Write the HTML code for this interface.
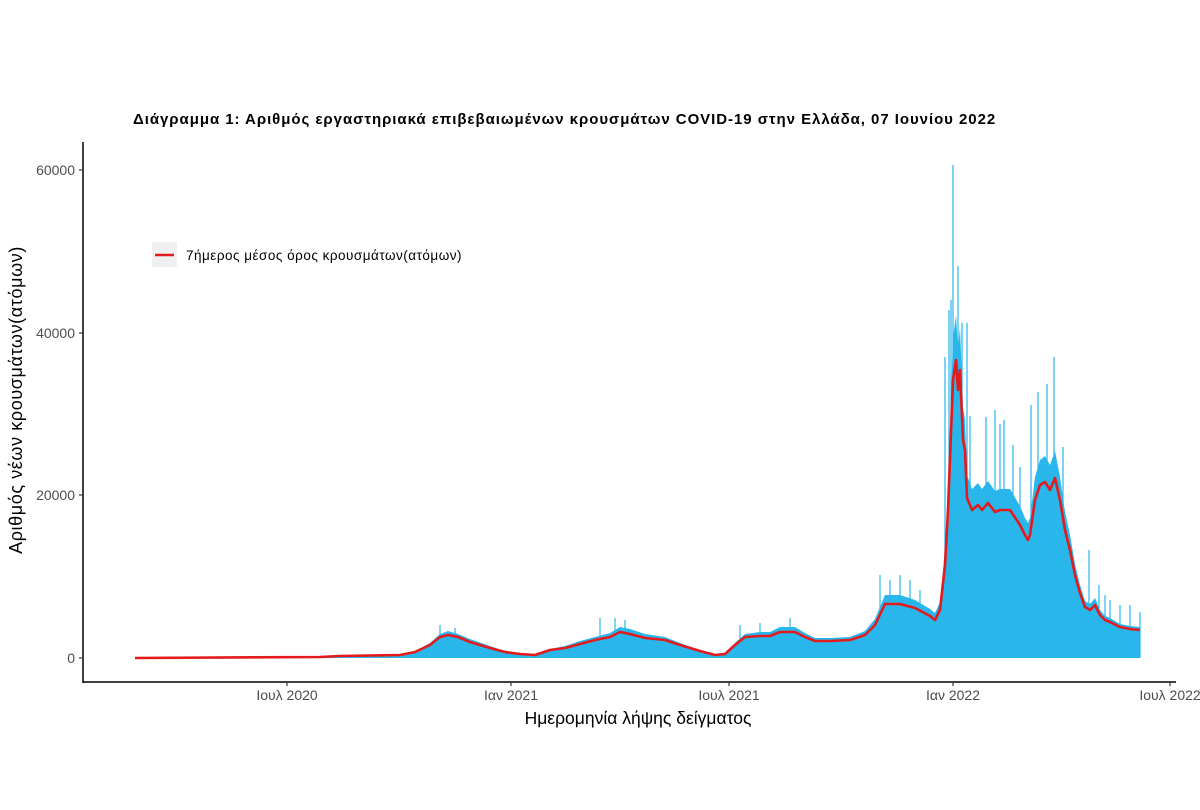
<!DOCTYPE html>
<html><head><meta charset="utf-8"><style>
body{margin:0;background:#fff}
svg{display:block;font-family:"Liberation Sans",sans-serif}
</style></head><body>
<svg width="1200" height="810" xmlns="http://www.w3.org/2000/svg">
<rect width="1200" height="810" fill="#fff"/>
<text x="133" y="124" font-size="15" font-weight="bold" letter-spacing="0.95" fill="#000">Διάγραμμα 1: Αριθμός εργαστηριακά επιβεβαιωμένων κρουσμάτων COVID-19 στην Ελλάδα, 07 Ιουνίου 2022</text>
<polygon fill="#29b6ea" points="135,658 320,657 400,655 415,651 430,643 440,634 448,631 458,634 470,639 490,646 505,651 520,653 535,654 550,649 565,646 580,641 595,637 610,633 620,627 630,629 645,634 665,637 680,643 700,650 715,654 725,653 735,643 745,634 760,632 770,632 780,627 795,627 805,633 815,638 830,638 850,637 865,631 875,619 885,595 900,595 915,600 930,609 935,613 940,602 945,550 948,487 953,338 956,315 958,350 960,327 963,408 965,419 967,475 972,489 978,483 982,489 988,481 995,491 1000,489 1010,489 1020,506 1025,518 1028,523 1030,518 1035,477 1040,460 1045,456 1050,465 1055,451 1060,477 1065,512 1070,535 1075,564 1080,585 1085,601 1090,604 1095,598 1100,610 1105,616 1110,618 1120,624 1130,626 1140,627 1140,658"/>
<g stroke="#29b6ea" stroke-width="1.2">
<line x1="953" y1="658" x2="953" y2="165"/><line x1="958" y1="658" x2="958" y2="266"/>
<line x1="962" y1="658" x2="962" y2="323"/><line x1="949" y1="658" x2="949" y2="310"/>
<line x1="951" y1="658" x2="951" y2="300"/><line x1="945" y1="658" x2="945" y2="357"/>
<line x1="967" y1="658" x2="967" y2="323"/><line x1="970" y1="658" x2="970" y2="416"/>
<line x1="986" y1="658" x2="986" y2="417"/><line x1="995" y1="658" x2="995" y2="410"/>
<line x1="1000" y1="658" x2="1000" y2="424"/><line x1="1004" y1="658" x2="1004" y2="420"/>
<line x1="1013" y1="658" x2="1013" y2="445"/><line x1="1020" y1="658" x2="1020" y2="467"/>
<line x1="1031" y1="658" x2="1031" y2="405"/><line x1="1038" y1="658" x2="1038" y2="392"/>
<line x1="1047" y1="658" x2="1047" y2="384"/><line x1="1054" y1="658" x2="1054" y2="357"/>
<line x1="1063" y1="658" x2="1063" y2="447"/><line x1="1089" y1="658" x2="1089" y2="550"/>
<line x1="1099" y1="658" x2="1099" y2="585"/><line x1="1105" y1="658" x2="1105" y2="595"/>
<line x1="440" y1="658" x2="440" y2="625"/><line x1="455" y1="658" x2="455" y2="628"/>
<line x1="600" y1="658" x2="600" y2="618"/><line x1="615" y1="658" x2="615" y2="618"/>
<line x1="625" y1="658" x2="625" y2="620"/><line x1="740" y1="658" x2="740" y2="625"/>
<line x1="760" y1="658" x2="760" y2="623"/><line x1="790" y1="658" x2="790" y2="618"/>
<line x1="880" y1="658" x2="880" y2="575"/><line x1="890" y1="658" x2="890" y2="580"/>
<line x1="900" y1="658" x2="900" y2="575"/><line x1="910" y1="658" x2="910" y2="580"/>
<line x1="920" y1="658" x2="920" y2="590"/><line x1="1110" y1="658" x2="1110" y2="600"/>
<line x1="1120" y1="658" x2="1120" y2="605"/><line x1="1130" y1="658" x2="1130" y2="605"/>
<line x1="1140" y1="658" x2="1140" y2="612"/>
</g>
<polyline fill="none" stroke="#e41a1c" stroke-width="2.6" stroke-linejoin="round" points="135,658 320,657 340,656 400,655 415,652 430,645 440,637 448,635 458,637 470,642 490,648 505,652 520,654 535,655 550,650 565,648 580,644 595,640 610,637 620,632 630,634 645,638 665,640 680,645 700,651 715,655 725,654 735,645 745,637 760,636 770,636 780,632 795,632 805,637 815,641 830,641 850,640 865,635 875,625 885,604 900,604 915,608 930,616 935,620 940,610 945,565 948,510 953,380 956,360 958,390 960,370 963,440 965,450 967,498 972,510 978,505 982,510 988,503 995,512 1000,510 1010,510 1020,525 1025,535 1028,540 1030,535 1035,500 1040,485 1045,482 1050,490 1055,478 1060,500 1065,530 1070,550 1075,575 1080,593 1085,607 1090,610 1095,605 1100,615 1105,620 1110,622 1120,627 1130,629 1140,630"/>
<line x1="83" y1="142" x2="83" y2="683" stroke="#000" stroke-width="1.5"/>
<line x1="83" y1="682" x2="1176" y2="682" stroke="#000" stroke-width="1.5"/>
<g stroke="#333" stroke-width="1.2">
<line x1="79" y1="170" x2="83" y2="170"/><line x1="79" y1="333" x2="83" y2="333"/>
<line x1="79" y1="495" x2="83" y2="495"/><line x1="79" y1="658" x2="83" y2="658"/>
<line x1="287" y1="682" x2="287" y2="686"/><line x1="511" y1="682" x2="511" y2="686"/>
<line x1="729" y1="682" x2="729" y2="686"/><line x1="953" y1="682" x2="953" y2="686"/>
<line x1="1170" y1="682" x2="1170" y2="686"/>
</g>
<g font-size="14" fill="#4d4d4d" text-anchor="end">
<text x="75" y="175">60000</text><text x="75" y="338">40000</text>
<text x="75" y="500">20000</text><text x="75" y="663">0</text>
</g>
<g font-size="14" fill="#4d4d4d" text-anchor="middle">
<text x="287" y="700">Ιουλ 2020</text><text x="511" y="700">Ιαν 2021</text>
<text x="729" y="700">Ιουλ 2021</text><text x="953" y="700">Ιαν 2022</text>
<text x="1170" y="700">Ιουλ 2022</text>
</g>
<text x="638" y="724" font-size="17.5" text-anchor="middle" fill="#000">Ημερομηνία λήψης δείγματος</text>
<text transform="translate(22,400) rotate(-90)" font-size="18" letter-spacing="0.6" text-anchor="middle" fill="#000">Αριθμός νέων κρουσμάτων(ατόμων)</text>
<rect x="152" y="242" width="25" height="25" fill="#f0f0f0"/>
<line x1="155" y1="255" x2="174" y2="255" stroke="#e41a1c" stroke-width="2.6"/>
<text x="186" y="260" font-size="13.5" letter-spacing="0.5" fill="#000">7ήμερος μέσος όρος κρουσμάτων(ατόμων)</text>
</svg>
</body></html>
